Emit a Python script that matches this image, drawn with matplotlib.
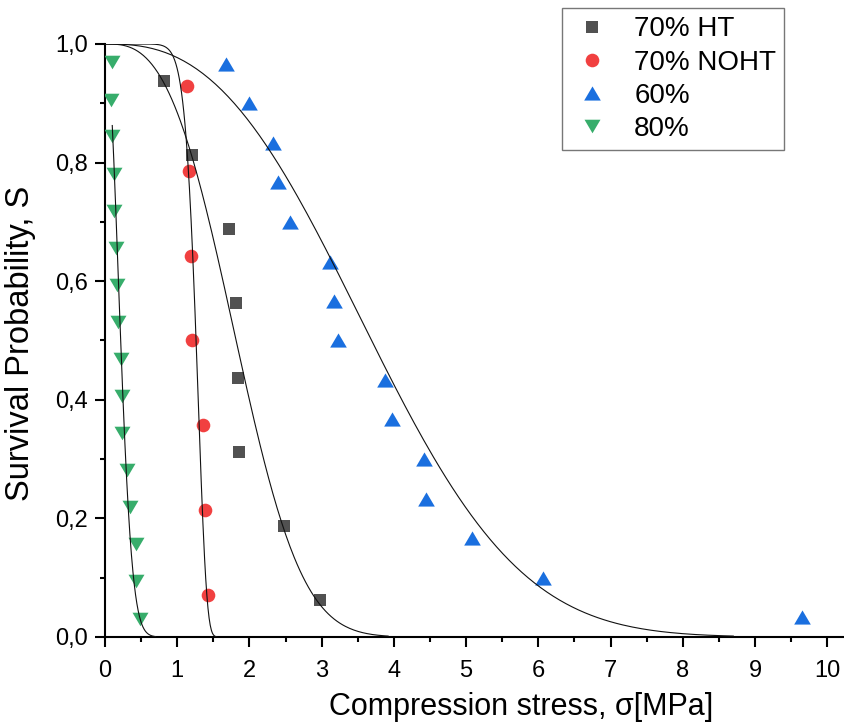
import numpy as np
import matplotlib
matplotlib.use("Agg")
import matplotlib.pyplot as plt
from matplotlib.path import Path
from matplotlib.ticker import MultipleLocator, FuncFormatter

# ---------------- data ----------------
labels = ["70% HT", "70% NOHT", "60%", "80%"]

x_ht = [0.81, 1.20, 1.72, 1.81, 1.84, 1.85, 2.48, 2.98]
s_ht = [0.9375, 0.8125, 0.6875, 0.5625, 0.4375, 0.3125, 0.1875, 0.0625]

x_noht = [1.13, 1.16, 1.19, 1.21, 1.35, 1.38, 1.43]
s_noht = [0.929, 0.786, 0.643, 0.500, 0.357, 0.214, 0.071]

x_60 = [1.68, 2.00, 2.32, 2.39, 2.56, 3.11, 3.17, 3.22, 3.88, 3.97,
        4.42, 4.44, 5.08, 6.06, 9.65]
s_60 = [0.967, 0.900, 0.833, 0.767, 0.700, 0.633, 0.567, 0.500, 0.433,
        0.367, 0.300, 0.233, 0.167, 0.100, 0.033]

x_80 = [0.09, 0.08, 0.10, 0.12, 0.12, 0.15, 0.17, 0.18, 0.22, 0.23,
        0.23, 0.30, 0.35, 0.43, 0.43, 0.48]
s_80 = [0.969, 0.906, 0.844, 0.781, 0.719, 0.656, 0.594, 0.531, 0.469,
        0.406, 0.344, 0.281, 0.219, 0.156, 0.094, 0.031]

# Weibull fit parameters (modulus m, scale sigma0) and drawn range of each fit
fit_m = [2.9, 12.0, 2.6, 2.0]
fit_s0 = [2.06, 1.30, 4.25, 0.26]
fit_range = [(0.0, 3.92), (0.0, 1.55), (0.0, 8.70), (0.10, 0.70)]

colors = ["#515151", "#F14040", "#1A6FDF", "#37AD6B"]

# ---------------- figure ----------------
fig = plt.figure(figsize=(8.45, 7.28), dpi=100)
ax = fig.add_axes([0.1243, 0.125, 0.8734, 0.8146])

tri_up = Path([(-1, -0.85), (1, -0.85), (0, 0.85), (-1, -0.85)],
              [Path.MOVETO, Path.LINETO, Path.LINETO, Path.CLOSEPOLY])
tri_dn = Path([(-1, 0.85), (1, 0.85), (0, -0.85), (-1, 0.85)],
              [Path.MOVETO, Path.LINETO, Path.LINETO, Path.CLOSEPOLY])
markers = ["s", "o", tri_up, tri_dn]
msizes = [8.8, 9.8, 12.0, 11.5]
xs = [x_ht, x_noht, x_60, x_80]
ss = [s_ht, s_noht, s_60, s_80]

for i in range(4):
    ax.plot(xs[i], ss[i], linestyle="none", marker=markers[i],
            markersize=msizes[i], color=colors[i], markeredgewidth=0,
            label=labels[i], zorder=3)

for i in range(4):
    xx = np.linspace(fit_range[i][0], fit_range[i][1], 200)
    yy = np.exp(-(xx / fit_s0[i]) ** fit_m[i])
    ax.plot(xx, yy, color="#111111", linewidth=0.8, zorder=4)

ax.set_xlim(0, 10.22)
ax.set_ylim(0, 1.0)
for sp in ["top", "right"]:
    ax.spines[sp].set_visible(False)
for sp in ["left", "bottom"]:
    ax.spines[sp].set_linewidth(1.5)

ax.xaxis.set_major_locator(MultipleLocator(1))
ax.xaxis.set_minor_locator(MultipleLocator(0.5))
ax.yaxis.set_major_locator(MultipleLocator(0.2))
ax.yaxis.set_minor_locator(MultipleLocator(0.1))
ax.yaxis.set_major_formatter(FuncFormatter(lambda v, p: f"{v:.1f}".replace(".", ",")))
ax.xaxis.set_major_formatter(FuncFormatter(lambda v, p: f"{v:.0f}"))

font = ["Liberation Sans", "DejaVu Sans"]
ax.tick_params(which="major", direction="out", length=7.5, width=1.5,
               labelsize=17)
ax.tick_params(axis="x", which="major", pad=9)
ax.tick_params(axis="y", which="major", pad=5)
ax.tick_params(which="minor", direction="out", length=3.8, width=1.5)
for lab in ax.get_xticklabels() + ax.get_yticklabels():
    lab.set_fontfamily(font)

ax.set_xlabel("Compression stress, σ[MPa]", fontsize=22, family=font)
ax.set_ylabel("Survival Probability, S", fontsize=23.5, family=font)
ax.xaxis.set_label_coords(0.564, -0.093)
ax.yaxis.set_label_coords(-0.094, 0.495)

leg = fig.legend(loc="upper left", bbox_to_anchor=(0.665, 0.989),
                 bbox_transform=fig.transFigure, frameon=True, fancybox=False,
                 edgecolor="#555555", handlelength=1.6,
                 handletextpad=0.7, borderpad=0.3, labelspacing=0.26,
                 borderaxespad=0,
                 prop={"family": font, "size": 20})
leg.get_frame().set_linewidth(1.0)

fig.savefig("out.png", dpi=100)
